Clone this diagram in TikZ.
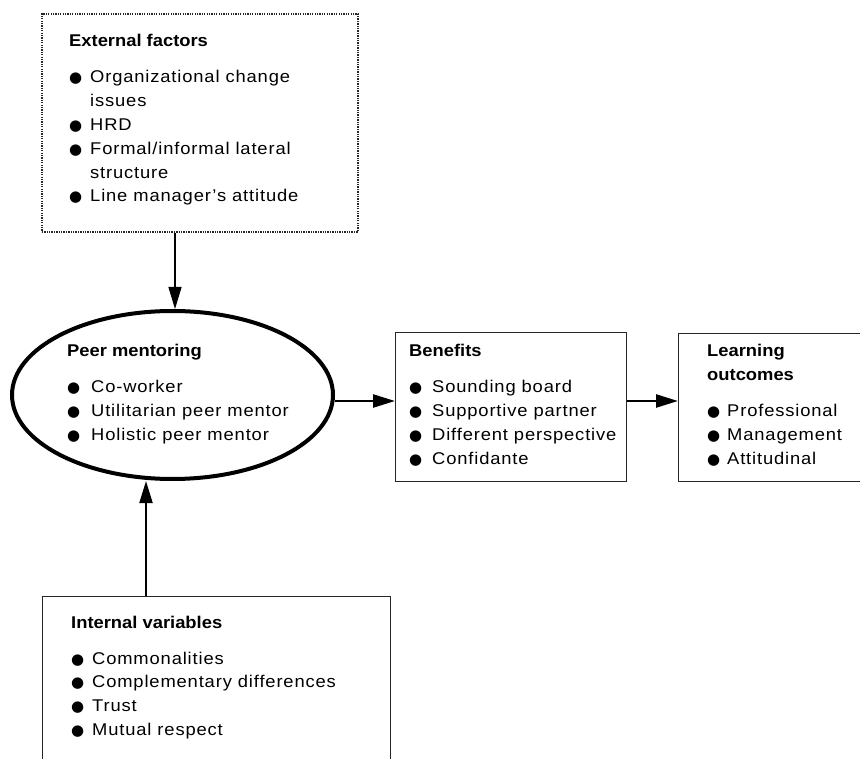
\documentclass[tikz,border=0pt]{standalone}
\usepackage{fontspec}
\usepackage{array}
\setmainfont{Liberation Sans}[FakeStretch=1.08,LetterSpace=5,BoldFeatures={LetterSpace=0}]
\newfontfamily\symfont{DejaVu Sans}
\usetikzlibrary{arrows.meta,shapes.geometric}
\newcommand\bul{{\symfont\fontsize{15}{15}\selectfont ●}}
\newenvironment{itemlist}[1]{\begin{tabular}[t]{@{}p{#1}@{}l@{}}}{\end{tabular}}

\begin{document}
\begin{tikzpicture}[x=1pt,y=-1pt,
  box/.style={draw=black!85,line width=1.3pt,rectangle,inner sep=0pt,anchor=north west},
  dotbox/.style={box,dash pattern=on 1.3pt off 1.1pt,line width=1.6pt},
  txt/.style={anchor=base west,inner sep=0pt,font=\fontsize{17}{23.8}\selectfont},
  arr/.style={-{Triangle[length=22pt,width=13pt]}}]
  \useasboundingbox (0,0) rectangle (860,759);
  \fill[white] (0,0) rectangle (860,759);
  \clip (0,0) rectangle (860,759);

  \node[dotbox,minimum width=316pt,minimum height=218pt] (ext) at (41,13) {};
  \node[draw,line width=4pt,ellipse,inner sep=0pt,minimum width=321pt,minimum height=168pt] (peer) at (172.5,395) {};
  \node[box,minimum width=231pt,minimum height=149pt] (ben) at (395,332) {};
  \node[box,minimum width=230pt,minimum height=148pt] (learn) at (678,333) {};
  \node[box,minimum width=348pt,minimum height=230pt] (int) at (42,596) {};

  \node[txt] (extT) at (69,47) {\begin{itemlist}{21pt}
    \multicolumn{2}{@{}l@{}}{\textbf{External factors}}\\[12.2pt]
    \bul & Organizational change\\
         & issues\\
    \bul & HRD\\
    \bul & Formal/informal lateral\\
         & structure\\
    \bul & Line manager's attitude
  \end{itemlist}};
  \node[txt] (peerT) at (67,357) {\begin{itemlist}{24pt}
    \multicolumn{2}{@{}l@{}}{\textbf{Peer mentoring}}\\[12.2pt]
    \bul & Co-worker\\
    \bul & Utilitarian peer mentor\\
    \bul & Holistic peer mentor
  \end{itemlist}};
  \node[txt] (benT) at (409,357) {\begin{itemlist}{23pt}
    \multicolumn{2}{@{}l@{}}{\textbf{Benefits}}\\[12.2pt]
    \bul & Sounding board\\
    \bul & Supportive partner\\
    \bul & Different perspective\\
    \bul & Confidante
  \end{itemlist}};
  \node[txt] (learnT) at (707,357) {\begin{itemlist}{20pt}
    \multicolumn{2}{@{}l@{}}{\textbf{Learning}}\\
    \multicolumn{2}{@{}l@{}}{\textbf{outcomes}}\\[12.2pt]
    \bul & Professional\\
    \bul & Management\\
    \bul & Attitudinal
  \end{itemlist}};
  \node[txt] (intT) at (71,628) {\begin{itemlist}{21pt}
    \multicolumn{2}{@{}l@{}}{\textbf{Internal variables}}\\[12.2pt]
    \bul & Commonalities\\
    \bul & Complementary differences\\
    \bul & Trust\\
    \bul & Mutual respect
  \end{itemlist}};

  \draw[arr,line width=1.2pt] (ext.south -| 175,0) -- (peer.north -| 175,0);
  \draw[arr,line width=2pt] (int.north -| 146,0) -- (peer.south -| 146,0);
  \draw[arr,line width=2.5pt] (peer.east |- 0,401) -- (ben.west |- 0,401);
  \draw[arr,line width=2.5pt] (ben.east |- 0,401) -- (learn.west |- 0,401);
\end{tikzpicture}
\end{document}
